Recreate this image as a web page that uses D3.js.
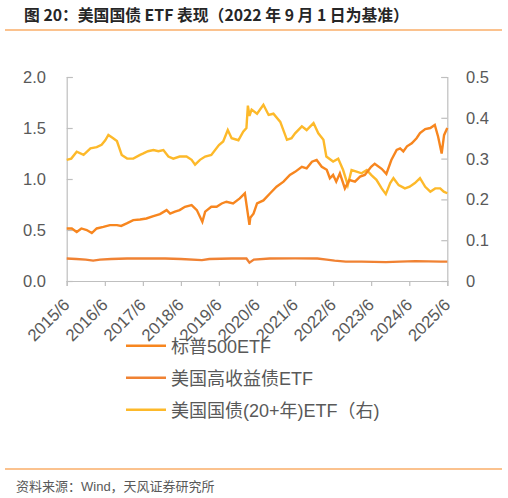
<!DOCTYPE html>
<html>
<head>
<meta charset="utf-8">
<script src="https://cdn.jsdelivr.net/npm/d3@7"></script>
<style>
  body { margin: 0; background: #fff; }
  svg { display: block; font-family: "Liberation Sans", Arial, "Noto Sans CJK SC", sans-serif; }
</style>
</head>
<body>
<svg id="chart"></svg>
<script>
// 标普500ETF (left axis)
const spDates = ["2015-06-01","2015-07-20","2015-09-05","2015-10-20","2015-12-10","2016-01-28","2016-03-15","2016-05-18","2016-07-20","2016-09-25","2016-11-05","2016-12-28","2017-03-01","2017-05-05","2017-07-05","2017-09-10","2017-11-12","2018-01-15","2018-02-18","2018-04-05","2018-05-20","2018-07-10","2018-09-12","2018-11-01","2018-12-24","2019-01-20","2019-03-20","2019-05-10","2019-06-28","2019-08-12","2019-10-15","2019-12-18","2020-02-05","2020-03-20","2020-03-28","2020-04-28","2020-06-01","2020-08-01","2020-10-05","2020-12-05","2021-02-10","2021-04-12","2021-06-01","2021-08-05","2021-09-20","2021-11-10","2021-12-25","2022-02-12","2022-04-01","2022-05-01","2022-06-01","2022-07-01","2022-08-05","2022-09-22","2022-11-05","2022-12-28","2023-02-15","2023-04-01","2023-06-01","2023-07-05","2023-09-10","2023-10-25","2023-12-12","2024-02-01","2024-03-05","2024-04-05","2024-05-10","2024-06-25","2024-08-10","2024-09-12","2024-11-01","2024-12-20","2025-02-01","2025-03-05","2025-04-08","2025-05-01","2025-06-01"];
const spValues = [0.515,0.515,0.48,0.515,0.50,0.47,0.515,0.53,0.548,0.548,0.54,0.565,0.597,0.603,0.613,0.636,0.656,0.695,0.66,0.68,0.695,0.728,0.744,0.695,0.58,0.68,0.728,0.728,0.76,0.777,0.76,0.81,0.86,0.55,0.62,0.66,0.76,0.79,0.86,0.925,0.974,1.04,1.07,1.12,1.105,1.17,1.187,1.12,1.09,1.007,1.04,0.974,1.056,0.908,0.99,0.974,1.023,1.04,1.12,1.15,1.10,1.05,1.186,1.285,1.30,1.27,1.32,1.35,1.40,1.45,1.49,1.50,1.53,1.415,1.25,1.43,1.50];

// 美国高收益债ETF (left axis)
const hyDates = ["2015-06-01","2015-09-01","2015-12-01","2016-02-10","2016-04-15","2016-08-01","2017-01-01","2017-06-01","2018-01-01","2018-06-01","2018-12-20","2019-03-01","2019-10-01","2020-02-20","2020-03-20","2020-05-01","2020-10-01","2021-06-01","2022-01-01","2022-04-01","2022-06-15","2022-10-01","2023-03-01","2023-10-20","2024-03-01","2024-08-01","2025-04-01","2025-06-01"];
const hyValues = [0.22,0.215,0.21,0.20,0.21,0.215,0.22,0.22,0.22,0.215,0.205,0.215,0.22,0.22,0.18,0.21,0.22,0.222,0.22,0.21,0.20,0.19,0.19,0.185,0.19,0.195,0.19,0.19];

// 美国国债(20+年)ETF (right axis)
const tltDates = ["2015-06-01","2015-07-15","2015-09-05","2015-11-10","2016-01-15","2016-03-15","2016-05-01","2016-06-05","2016-07-05","2016-08-20","2016-09-25","2016-11-10","2017-01-01","2017-03-01","2017-05-05","2017-06-01","2017-07-20","2017-09-10","2017-10-28","2017-12-15","2018-02-01","2018-03-20","2018-05-20","2018-07-25","2018-09-12","2018-10-15","2018-12-01","2019-01-20","2019-03-20","2019-06-01","2019-07-12","2019-08-25","2019-10-01","2019-12-05","2020-01-20","2020-02-20","2020-03-05","2020-03-20","2020-04-10","2020-06-01","2020-08-01","2020-09-20","2020-11-05","2021-01-10","2021-03-15","2021-04-28","2021-06-01","2021-08-05","2021-09-20","2021-11-25","2022-01-10","2022-02-28","2022-03-28","2022-06-01","2022-07-20","2022-09-05","2022-10-20","2022-11-25","2023-01-12","2023-03-01","2023-04-20","2023-06-01","2023-07-22","2023-09-10","2023-10-20","2023-12-01","2024-01-01","2024-02-20","2024-04-20","2024-06-05","2024-07-25","2024-09-12","2024-11-01","2024-12-20","2025-02-05","2025-03-25","2025-04-28","2025-06-01"];
const tltValues = [0.297,0.30,0.317,0.309,0.325,0.328,0.334,0.345,0.358,0.35,0.343,0.309,0.30,0.30,0.309,0.312,0.318,0.321,0.318,0.321,0.305,0.30,0.305,0.305,0.297,0.285,0.297,0.305,0.309,0.333,0.342,0.37,0.35,0.345,0.366,0.375,0.43,0.405,0.42,0.41,0.432,0.407,0.41,0.39,0.346,0.35,0.362,0.379,0.37,0.387,0.362,0.346,0.305,0.293,0.30,0.272,0.235,0.272,0.268,0.264,0.272,0.26,0.248,0.227,0.213,0.24,0.252,0.235,0.227,0.231,0.24,0.252,0.231,0.219,0.227,0.227,0.219,0.215];

const xTickDates = ["2015-06-01","2016-06-01","2017-06-01","2018-06-01","2019-06-01","2020-06-01","2021-06-01","2022-06-01","2023-06-01","2024-06-01","2025-06-01"];
const xTickLabels = ["2015/6","2016/6","2017/6","2018/6","2019/6","2020/6","2021/6","2022/6","2023/6","2024/6","2025/6"];
const leftTicks = [0, 0.5, 1.0, 1.5, 2.0];
const rightTicks = [0, 0.1, 0.2, 0.3, 0.4, 0.5];

const seriesNames = ["标普500ETF", "美国高收益债ETF", "美国国债(20+年)ETF（右)"];
const seriesColors = ["#F7861F", "#F08233", "#FDB92A"];

const W = 508, H = 498;
const svg = d3.select("#chart").attr("width", W).attr("height", H);
const parse = d3.timeParse("%Y-%m-%d");

const plotL = 66.7, plotR = 447.3, plotT = 77, plotB = 281;

const x = d3.scaleTime()
  .domain([parse(xTickDates[0]), parse(xTickDates[xTickDates.length - 1])])
  .range([plotL, plotR]);
const yL = d3.scaleLinear().domain([0, 2]).range([plotB, plotT]);
const yR = d3.scaleLinear().domain([0, 0.5]).range([plotB, plotT]);

const axisColor = "#BFBFBF", textColor = "#595959";

// title
svg.append("text")
  .attr("x", 24).attr("y", 21)
  .attr("font-size", 15.8).attr("font-weight", "bold")
  .attr("fill", "#262626")
  .style("font-family", "'Noto Sans CJK SC', sans-serif")
  .text("图 20：美国国债 ETF 表现（2022 年 9 月 1 日为基准）");
svg.append("line").attr("x1", 5).attr("x2", 502).attr("y1", 30).attr("y2", 30)
  .attr("stroke", "#F7861F").attr("stroke-width", 1.2);

// axes
const gL = svg.append("g").attr("transform", `translate(${plotL},0)`)
  .call(d3.axisRight(yL).tickValues(leftTicks).tickSize(6).tickFormat(""));
const gR = svg.append("g").attr("transform", `translate(${plotR},0)`)
  .call(d3.axisLeft(yR).tickValues(rightTicks).tickSize(6).tickFormat(""));
const gX = svg.append("g").attr("transform", `translate(0,${plotB})`)
  .call(d3.axisBottom(x).tickValues(xTickDates.map(parse)).tickSize(5).tickFormat(""));
[gL, gR, gX].forEach(g => {
  g.select(".domain").attr("stroke", axisColor).attr("stroke-width", 1.2);
  g.selectAll(".tick line").attr("stroke", axisColor).attr("stroke-width", 1.2);
});

svg.selectAll(".ly").data(leftTicks).enter().append("text")
  .attr("x", 46).attr("y", d => yL(d) + 6)
  .attr("text-anchor", "end").attr("font-size", 16.5).attr("fill", textColor)
  .text(d => d.toFixed(1));
svg.selectAll(".ry").data(rightTicks).enter().append("text")
  .attr("x", 466).attr("y", d => yR(d) + 6)
  .attr("font-size", 16.5).attr("fill", textColor)
  .text(d => d === 0 ? "0" : d.toFixed(1));
svg.selectAll(".xl").data(xTickDates).enter().append("text")
  .attr("transform", d => `translate(${x(parse(d)) + 4},${plotB + 25}) rotate(-45)`)
  .attr("text-anchor", "end").attr("font-size", 16.8).attr("fill", textColor)
  .text((d, i) => xTickLabels[i]);

// lines
const lineL = d3.line().x(d => x(d[0])).y(d => yL(d[1]));
const lineR = d3.line().x(d => x(d[0])).y(d => yR(d[1]));
const zip = (ds, vs) => ds.map((d, i) => [parse(d), vs[i]]);

svg.append("path").datum(zip(hyDates, hyValues))
  .attr("d", lineL).attr("fill", "none").attr("stroke", seriesColors[1]).attr("stroke-width", 2.4);
svg.append("path").datum(zip(tltDates, tltValues))
  .attr("d", lineR).attr("fill", "none").attr("stroke", seriesColors[2]).attr("stroke-width", 2.4);
svg.append("path").datum(zip(spDates, spValues))
  .attr("d", lineL).attr("fill", "none").attr("stroke", seriesColors[0]).attr("stroke-width", 2.4);

// legend
const lg = svg.selectAll(".lg").data(seriesNames).enter().append("g")
  .attr("transform", (d, i) => `translate(126,${345.7 + i * 32})`);
lg.append("line").attr("x1", 0).attr("x2", 40)
  .attr("stroke", (d, i) => seriesColors[i]).attr("stroke-width", 2.6);
lg.append("text").attr("x", 45).attr("y", 7)
  .attr("font-size", 18).attr("fill", textColor)
  .text(d => d);

// source
svg.append("line").attr("x1", 5).attr("x2", 502).attr("y1", 469).attr("y2", 469)
  .attr("stroke", "#F7861F").attr("stroke-width", 1.2);
svg.append("text").attr("x", 16).attr("y", 491)
  .attr("font-size", 13).attr("fill", textColor)
  .text("资料来源：Wind，天风证券研究所");
</script>
</body>
</html>
